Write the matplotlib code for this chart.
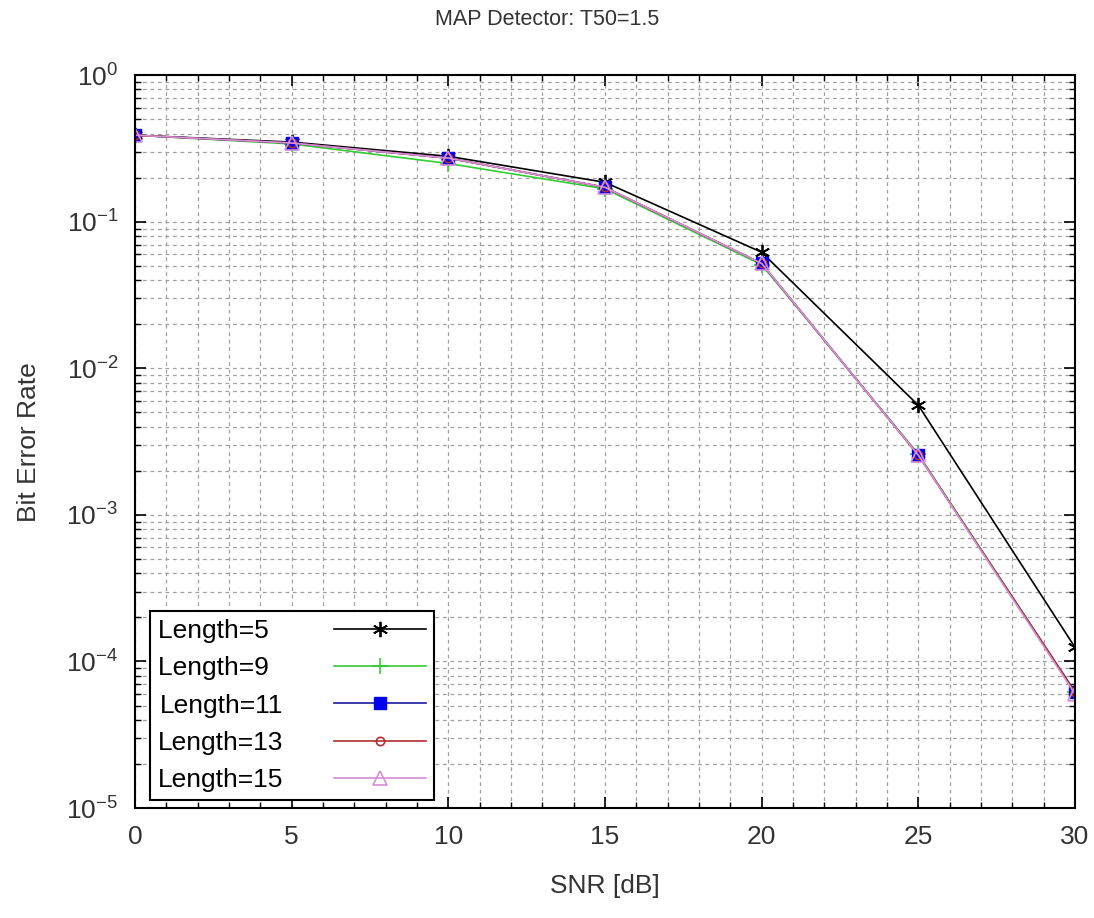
import numpy as np
import matplotlib
matplotlib.use("Agg")
import matplotlib.pyplot as plt
from matplotlib.ticker import LogLocator, MultipleLocator

plt.rcParams['font.family'] = ['Liberation Sans', 'DejaVu Sans']
plt.rcParams['mathtext.fontset'] = 'custom'
plt.rcParams['mathtext.rm'] = 'Liberation Sans'
plt.rcParams['mathtext.it'] = 'Liberation Sans'
plt.rcParams['mathtext.bf'] = 'Liberation Sans'

snr = [0, 5, 10, 15, 20, 25, 30]
ber_len5 = [0.39, 0.35, 0.28, 0.186, 0.062, 0.0056, 1.25e-4]
ber_len9 = [0.39, 0.34, 0.25, 0.168, 0.051, 0.0026, 6.2e-5]
ber_len11 = [0.39, 0.345, 0.272, 0.172, 0.052, 0.00256, 6.2e-5]
ber_len13 = [0.39, 0.345, 0.272, 0.172, 0.052, 0.00256, 6.2e-5]
ber_len15 = [0.39, 0.345, 0.272, 0.172, 0.052, 0.00256, 6.0e-5]
labels = ["Length=5", "Length=9", "Length=11", "Length=13", "Length=15"]

# pad the one-digit labels so the legend text lines up on the left
maxlen = max(len(l) for l in labels)
leg_labels = [l + "\u2007" * (maxlen - len(l)) for l in labels]

fig = plt.figure(figsize=(10.94, 9.18), dpi=100)
ax = fig.add_axes([0.1234, 0.1198, 0.8592, 0.7982])

ax.plot(snr, ber_len5, color='black', lw=1.2, marker=(6, 2, 0), ms=11, mew=1.3, label=leg_labels[0])
ax.plot(snr, ber_len9, color='#33cc33', lw=1.2, marker='+', ms=12, mew=1.2, label=leg_labels[1])
ax.plot(snr, ber_len11, color='#1a1aa0', lw=1.2, marker='s', ms=8, mfc='#0000ee', mec='#0000ee', label=leg_labels[2])
ax.plot(snr, ber_len13, color='#b03030', lw=1.2, marker='o', ms=6, mfc='none', mew=1.2, label=leg_labels[3])
ax.plot(snr, ber_len15, color='#d58fd5', lw=1.2, marker='^', ms=10, mfc='none', mew=1.2, label=leg_labels[4])

ax.set_yscale('log')
ax.set_xlim(0, 30)
ax.set_ylim(1e-5, 1)
ax.xaxis.set_major_locator(MultipleLocator(5))
ax.xaxis.set_minor_locator(MultipleLocator(1))
ax.yaxis.set_major_locator(LogLocator(base=10, numticks=10))
ax.yaxis.set_minor_locator(LogLocator(base=10, subs=np.arange(2, 10), numticks=10))

ax.grid(True, which='both', ls=(0, (3, 3)), color='#a0a0a0', lw=0.9)
ax.tick_params(which='both', direction='in', top=True, right=True, color='black')
ax.tick_params(which='major', length=8, width=1.2, labelsize=19, labelcolor='#333333', pad=12)
ax.tick_params(which='minor', length=4, width=1.0)
for s in ax.spines.values():
    s.set_linewidth(1.5)

ax.set_xlabel("SNR [dB]", fontsize=19, color='#333333', labelpad=18)
ax.set_ylabel("Bit Error Rate", fontsize=19, color='#333333', labelpad=18)
fig.suptitle("MAP Detector: T50=1.5", fontsize=15.5, color='#333333', y=0.99)

leg = ax.legend(loc='lower left', bbox_to_anchor=(0.016, 0.011), borderaxespad=0,
                markerfirst=False, fontsize=19, handlelength=3.5,
                fancybox=False, framealpha=1, edgecolor='black',
                labelspacing=0.5, handletextpad=1.9, borderpad=0.3)
leg.get_frame().set_linewidth(1.5)

fig.savefig("out.png", dpi=100)
